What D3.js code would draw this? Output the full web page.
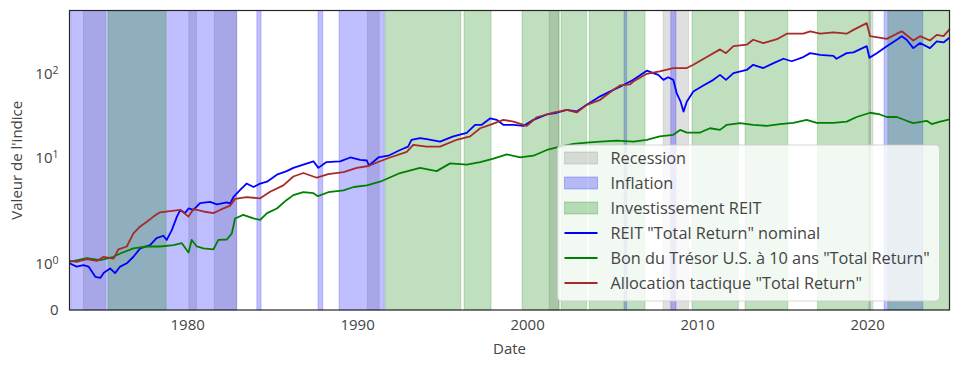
<!DOCTYPE html>
<html>
<head>
<meta charset="utf-8">
<script src="https://cdn.jsdelivr.net/npm/d3@7"></script>
<style>
  body { margin: 0; background: #fff; }
  text { font-family: "Open Sans", Lato, sans-serif; fill: #444; }
</style>
</head>
<body>
<div id="viz"></div>
<script>
// shaded periods, [start, end] in decimal years
var recessions = [[1973.9, 1975.2], [1980.1, 1980.55], [1981.6, 1982.9], [1990.6, 1991.3],
                  [2001.3, 2001.88], [2008.0, 2009.5], [2020.1, 2020.35]];
var inflation = [[1973.15, 1982.92], [1984.1, 1984.35], [1987.7, 1987.98], [1988.94, 1991.6],
                 [2005.7, 2005.86], [2008.45, 2008.76], [2021.0, 2023.28]];
var reitInvest = [[1975.35, 1978.76], [1991.65, 1996.1], [1996.29, 1997.88], [1999.7, 2001.88],
                  [2002.0, 2003.5], [2003.65, 2006.94], [2009.7, 2012.43], [2012.82, 2015.34],
                  [2017.08, 2020.2], [2021.22, 2024.86]];

// REIT "Total Return" nominal
var reitDates = [1973.08, 1973.5, 1973.9, 1974.2, 1974.6, 1974.9, 1975.1, 1975.47, 1975.76, 1976.06,
  1976.45, 1976.84, 1977.24, 1977.82, 1978.2, 1978.6, 1978.8, 1979.1, 1979.4, 1979.6,
  1979.88, 1980.08, 1980.37, 1980.76, 1981.35, 1981.75, 1982.34, 1982.53, 1982.72, 1983.12,
  1983.5, 1983.9, 1984.3, 1984.7, 1985.28, 1985.86, 1986.25, 1986.84, 1987.43, 1987.72,
  1988.2, 1989.0, 1989.6, 1990.18, 1990.57, 1990.7, 1991.25, 1991.84, 1992.53, 1993.0,
  1993.2, 1993.7, 1994.1, 1994.88, 1995.66, 1996.45, 1996.94, 1997.33, 1997.82, 1998.22,
  1998.6, 1999.2, 1999.8, 2000.37, 2001.16, 2001.75, 2002.33, 2002.92, 2003.51, 2004.3,
  2005.08, 2005.47, 2006.06, 2006.25, 2007.04, 2007.43, 2007.72, 2008.02, 2008.3, 2008.6,
  2008.8, 2009.03, 2009.2, 2009.4, 2009.78, 2010.37, 2010.96, 2011.35, 2011.7, 2012.14,
  2012.92, 2013.3, 2013.9, 2014.5, 2015.08, 2015.57, 2016.25, 2016.65, 2017.24, 2018.02,
  2018.2, 2018.8, 2019.2, 2019.98, 2020.14, 2020.57, 2021.16, 2021.75, 2022.04, 2022.33,
  2022.72, 2023.12, 2023.7, 2024.1, 2024.5, 2024.86];
var reitValues = [1.0, 0.93, 0.96, 0.93, 0.71, 0.69, 0.80, 0.89, 0.79, 0.93,
  1.0, 1.14, 1.32, 1.39, 1.54, 1.59, 1.50, 1.71, 2.0, 2.4,
  2.2, 2.5, 2.4, 2.9, 3.0, 2.8, 2.95, 2.85, 3.4, 4.15,
  4.95, 4.5, 4.95, 5.2, 6.3, 6.95, 7.6, 8.3, 9.1, 7.6,
  8.9, 9.1, 10.1, 9.46, 9.3, 8.1, 10.1, 10.6, 12.4, 13.6,
  16.4, 17.2, 16.7, 15.6, 18, 19.8, 24.7, 24.7, 29.4, 28.3,
  24.7, 24.7, 24, 28.3, 32.8, 34.4, 37.2, 35.6, 42.7, 53.9,
  64.4, 70, 81, 84.7, 109, 102, 97, 84.7, 91, 84.7,
  59, 46.7, 35.5, 46.7, 61.6, 72.6, 84.7, 97, 84.7, 102,
  111, 128, 117, 134, 151, 141, 158, 176, 168, 163,
  151, 176, 180, 213, 155, 176, 213, 254, 280, 254,
  202, 232, 202, 243, 236, 270];

// Bon du Tresor U.S. a 10 ans "Total Return"
var bondDates = [1973.08, 1974.1, 1974.9, 1975.67, 1976.06, 1976.84, 1977.63, 1978.4, 1979.2, 1979.69,
  1980.08, 1980.27, 1980.57, 1980.96, 1981.55, 1981.84, 1982.34, 1982.63, 1982.82, 1983.3,
  1983.9, 1984.3, 1984.7, 1985.28, 1985.86, 1986.25, 1986.84, 1987.43, 1987.7, 1988.3,
  1989.2, 1989.8, 1990.57, 1991.35, 1992.53, 1993.7, 1994.68, 1995.47, 1996.45, 1997.24,
  1998.02, 1998.8, 1999.59, 2000.37, 2001.16, 2001.94, 2002.72, 2003.51, 2004.3, 2005.28,
  2006.25, 2007.04, 2007.8, 2008.6, 2009.0, 2009.4, 2010.18, 2010.76, 2011.35, 2011.75,
  2012.53, 2013.3, 2014.1, 2014.88, 2015.66, 2016.45, 2017.04, 2018.02, 2018.8, 2019.39,
  2020.18, 2020.76, 2021.16, 2021.75, 2022.33, 2022.72, 2023.51, 2023.8, 2024.3, 2024.86];
var bondValues = [1.03, 1.11, 1.07, 1.14, 1.21, 1.32, 1.36, 1.36, 1.39, 1.43,
  1.23, 1.5, 1.36, 1.32, 1.3, 1.5, 1.51, 1.64, 1.96, 2.1,
  1.96, 1.93, 2.2, 2.5, 3.16, 3.6, 3.9, 3.8, 3.5, 3.9,
  4.1, 4.5, 4.7, 5.2, 6.6, 7.6, 6.95, 8.6, 8.3, 8.9,
  9.8, 11.0, 10.1, 10.6, 12.4, 13.6, 14.7, 15.2, 15.6, 16,
  15.6, 16.4, 18, 18.8, 21.5, 20, 20, 22.5, 21.5, 24.7,
  25.9, 24.7, 24, 25.2, 26.1, 28.3, 26.1, 26.1, 27, 30.6,
  34.4, 32.8, 30.6, 30.6, 27.6, 25.9, 27.6, 25.2, 27, 28.6];

// Allocation tactique "Total Return"
var tacticalDates = [1973.08, 1973.5, 1974.1, 1974.7, 1975.08, 1975.67, 1975.96, 1976.45, 1976.84, 1977.24,
  1977.63, 1978.02, 1978.4, 1979.0, 1979.6, 1980.08, 1980.37, 1980.96, 1981.55, 1981.94,
  1982.53, 1982.82, 1983.5, 1984.3, 1984.88, 1985.66, 1986.25, 1986.84, 1987.63, 1988.3,
  1989.2, 1989.98, 1990.66, 1991.35, 1991.94, 1992.92, 1993.3, 1994.1, 1994.88, 1995.86,
  1996.65, 1997.24, 1997.82, 1998.6, 1999.2, 1999.98, 2000.57, 2001.55, 2002.33, 2002.92,
  2003.51, 2004.3, 2005.08, 2005.47, 2006.06, 2006.25, 2007.04, 2007.8, 2008.6, 2009.4,
  2009.78, 2010.57, 2011.35, 2011.7, 2012.14, 2012.92, 2013.3, 2013.9, 2014.7, 2015.28,
  2016.25, 2016.65, 2017.24, 2018.02, 2018.8, 2019.2, 2019.98, 2020.18, 2021.16, 2021.75,
  2022.04, 2022.72, 2023.12, 2023.7, 2024.1, 2024.5, 2024.86];
var tacticalValues = [1.05, 1.03, 1.09, 1.05, 1.14, 1.1, 1.3, 1.36, 1.64, 1.79,
  1.89, 2.0, 2.25, 2.33, 2.4, 2.0, 2.45, 2.3, 2.2, 2.4,
  2.7, 3.25, 3.4, 3.3, 3.95, 4.7, 6.0, 6.6, 5.8, 6.4,
  6.75, 7.6, 8.0, 9.1, 10.1, 11.8, 14.3, 13.6, 13.6, 16.4,
  18, 22.5, 24.7, 28.3, 27, 24, 30.4, 34.4, 37.2, 34.7,
  42.7, 49, 64.4, 72.6, 75, 81, 100, 107, 117, 117,
  128, 158, 195, 176, 213, 222, 254, 232, 258, 300,
  300, 320, 300, 310, 300, 333, 400, 280, 260, 300,
  320, 249, 280, 249, 290, 280, 340];

var xTicks = [1980, 1990, 2000, 2010, 2020];
var yTicks = [0, 1, 10, 100];

// set the dimensions and margins of the graph
var margin = {top: 10.5, right: 8.5, bottom: 59, left: 69.5},
    width = 958 - margin.left - margin.right,
    height = 369 - margin.top - margin.bottom;

var svg = d3.select("#viz")
  .append("svg")
  .attr("width", 958)
  .attr("height", 369)
  .append("g")
  .attr("transform", "translate(" + margin.left + "," + margin.top + ")");

// x: decimal years, y: matplotlib-like symlog (linthresh 2)
var xScale = d3.scaleLinear().domain([1973.08, 2024.85]).range([0, width]);

var linthresh = 2, linscaleAdj = 1 / (1 - 1 / 10);
var symlog = v => {
  var a = Math.abs(v);
  if (a <= linthresh) return v * linscaleAdj;
  return Math.sign(v) * linthresh * (linscaleAdj + Math.log10(a / linthresh));
};
var yLin = d3.scaleLinear().domain([0, symlog(566)]).range([height, 0]);
var yScale = v => yLin(symlog(v));

var spanStyles = [
  {name: "Recession", periods: recessions, color: "#808080"},
  {name: "Inflation", periods: inflation, color: "#0000ff"},
  {name: "Investissement REIT", periods: reitInvest, color: "#008000"}
];

var series = [
  {name: 'REIT "Total Return" nominal', dates: reitDates, values: reitValues, color: "#0000ff"},
  {name: 'Bon du Trésor U.S. à 10 ans "Total Return"', dates: bondDates, values: bondValues, color: "#008000"},
  {name: 'Allocation tactique "Total Return"', dates: tacticalDates, values: tacticalValues, color: "#a52a2a"}
];

// shaded spans
spanStyles.forEach(s => {
  svg.append("g").selectAll("rect")
    .data(s.periods)
    .enter().append("rect")
    .attr("x", d => xScale(d[0]))
    .attr("width", d => xScale(d[1]) - xScale(d[0]))
    .attr("y", 0)
    .attr("height", height)
    .attr("fill", s.color)
    .attr("fill-opacity", 0.25)
    .attr("stroke", s.color)
    .attr("stroke-opacity", 0.2)
    .attr("stroke-width", 1);
});

// lines
var line = d3.line()
  .x(d => xScale(d[0]))
  .y(d => yScale(d[1]));

series.forEach(s => {
  svg.append("path")
    .datum(d3.zip(s.dates, s.values))
    .attr("fill", "none")
    .attr("stroke", s.color)
    .attr("stroke-width", 1.8)
    .attr("stroke-linejoin", "round")
    .attr("d", line);
});

// x-axis
var xAxis = svg.append("g")
  .attr("transform", "translate(0," + height + ")")
  .call(d3.axisBottom(xScale).tickValues(xTicks).tickFormat(d3.format("d")).tickSize(0).tickPadding(9));
xAxis.selectAll("text").style("font-size", "15px").style("fill", "#444");

// y-axis with 10^n labels
var yAxis = svg.append("g")
  .call(d3.axisLeft(yLin).tickValues(yTicks.map(symlog)).tickFormat("").tickSize(0).tickPadding(11));
yAxis.selectAll(".tick text")
  .style("font-size", "15px")
  .style("fill", "#444")
  .each(function(d, i) {
    var t = d3.select(this), v = yTicks[i];
    if (v === 0) { t.text("0"); return; }
    t.append("tspan").text("10");
    t.append("tspan").attr("dy", "-0.45em").style("font-size", "10.5px").text(Math.round(Math.log10(v)));
  });
svg.selectAll(".domain").style("display", "none");

// frame
svg.append("rect")
  .attr("width", width)
  .attr("height", height)
  .attr("fill", "none")
  .attr("stroke", "#262626")
  .attr("stroke-width", 1.2);

// axis titles
svg.append("text")
  .attr("x", width / 2)
  .attr("y", height + 44)
  .attr("text-anchor", "middle")
  .style("font-size", "15px")
  .text("Date");

svg.append("text")
  .attr("transform", "translate(" + (-48) + "," + (height / 2) + ") rotate(-90)")
  .attr("text-anchor", "middle")
  .style("font-size", "15px")
  .text("Valeur de l'indice");

// legend
var legend = svg.append("g")
  .attr("transform", "translate(" + (557.5 - margin.left) + "," + (145 - margin.top) + ")");

legend.append("rect")
  .attr("width", 382)
  .attr("height", 156)
  .attr("rx", 4)
  .attr("fill", "#fff")
  .attr("fill-opacity", 0.8)
  .attr("stroke", "#cccccc")
  .attr("stroke-opacity", 0.8);

spanStyles.forEach((s, i) => {
  legend.append("rect")
    .attr("x", 7)
    .attr("y", 13 + i * 25 - 6)
    .attr("width", 33)
    .attr("height", 12)
    .attr("fill", s.color)
    .attr("fill-opacity", 0.25)
    .attr("stroke", s.color)
    .attr("stroke-opacity", 0.25);
});

series.forEach((s, i) => {
  legend.append("line")
    .attr("x1", 7)
    .attr("x2", 40)
    .attr("y1", 13 + (i + 3) * 25)
    .attr("y2", 13 + (i + 3) * 25)
    .attr("stroke", s.color)
    .attr("stroke-width", 2);
});

legend.selectAll(".label")
  .data(spanStyles.map(s => s.name).concat(series.map(s => s.name)))
  .enter().append("text")
  .attr("x", 53)
  .attr("y", (d, i) => 13 + i * 25)
  .attr("dy", "0.35em")
  .style("font-size", "16.3px")
  .text(d => d);
</script>
</body>
</html>
